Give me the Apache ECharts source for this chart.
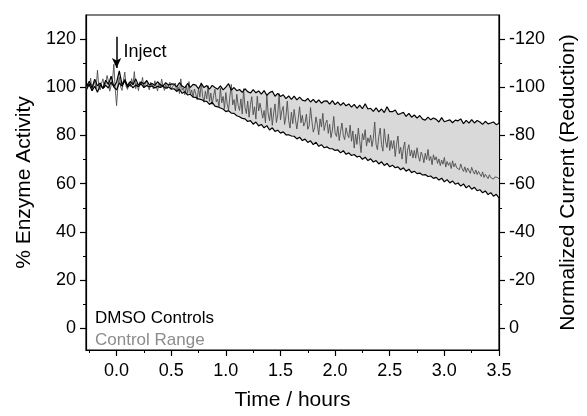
<!DOCTYPE html>
<html>
<head>
<meta charset="utf-8">
<title>Enzyme Activity</title>
<script src="https://cdn.jsdelivr.net/npm/echarts@6/dist/echarts.min.js"></script>
<style>
    html, body { margin: 0; padding: 0; background: #fff; }
    #main { width: 587px; height: 416px; }
</style>
</head>
<body>
    <div id="main"></div>
</body>
<script>
    // time axis: readings start at -0.275 h and end at 3.5 h
    var tStart = -0.275;
    var edgeStep = 0.025;   // black range traces
    var midStep = 0.0125;   // grey trace

    // top edge of the control range (black)
    var upperVals = [
        100.2, 102.5, 99.8, 103.4, 100.6, 101.8, 99.5, 102.9,
        101.2, 104.6, 100.3, 102.1, 106.8, 101.0, 103.2, 100.7,
        102.4, 101.1, 103.5, 100.9, 102.2, 101.4, 102.8, 101.0,
        101.6, 100.8, 102.3, 101.1, 100.6, 101.9, 100.9, 101.4,
        101.3, 100.2, 101.9, 100.5, 99.8, 101.6, 100.0, 101.2,
        100.9, 99.4, 101.6, 99.9, 100.7, 99.2, 100.8, 99.9,
        99.2, 100.6, 98.9, 100.1, 101.5, 98.8, 99.9, 98.6,
        99.1, 97.9, 99.4, 98.2, 97.6, 99.0, 97.7, 98.5,
        97.2, 98.6, 96.7, 97.8, 98.4, 96.3, 97.5, 96.2,
        96.9, 95.3, 96.4, 95.0, 96.3, 94.8, 95.9, 94.7,
        94.3, 95.4, 93.9, 95.0, 93.6, 94.8, 93.4, 94.3,
        94.4, 93.0, 94.5, 92.8, 93.9, 92.5, 93.6, 92.3,
        93.1, 91.8, 92.9, 91.3, 92.6, 91.1, 93.2, 91.0,
        91.3, 90.0, 91.5, 89.8, 91.0, 89.5, 91.9, 89.9,
        89.9, 90.6, 88.7, 89.1, 89.6, 87.9, 89.2, 87.6,
        88.5, 87.2, 88.3, 86.8, 86.4, 87.6, 86.5, 87.3,
        86.7, 85.6, 87.4, 85.7, 86.1, 86.5, 85.3, 86.4,
        86.1, 86.9, 84.9, 86.3, 85.1, 86.6, 85.2, 86.2,
        85.6, 84.6, 85.9, 84.8, 85.2, 85.6, 84.5, 85.1
    ];

    // bottom edge of the control range (black)
    var lowerVals = [
        99.1, 101.3, 98.6, 100.4, 97.9, 101.0, 99.6, 100.8,
        99.7, 102.2, 100.1, 98.9, 101.8, 100.5, 102.6, 100.0,
        101.2, 99.8, 100.9, 100.3, 101.4, 99.9, 100.7, 100.2,
        100.6, 99.7, 100.4, 99.9, 100.5, 99.6, 100.1, 99.3,
        99.4, 98.3, 99.2, 97.5, 98.2, 96.8, 97.1, 95.9,
        95.8, 95.2, 94.9, 94.3, 94.2, 92.9, 93.8, 92.2,
        91.9, 91.4, 91.0, 89.9, 90.3, 89.3, 89.2, 88.2,
        87.8, 87.1, 86.9, 85.8, 86.2, 84.7, 85.6, 84.0,
        84.6, 83.2, 84.1, 82.3, 83.2, 81.7, 82.2, 81.0,
        81.5, 80.3, 80.3, 79.8, 79.7, 78.6, 79.3, 77.9,
        78.5, 77.1, 77.8, 76.2, 77.2, 75.5, 76.2, 74.9,
        75.3, 74.5, 74.5, 73.8, 74.0, 72.8, 73.7, 72.2,
        72.8, 71.7, 72.1, 71.1, 71.4, 70.1, 71.0, 69.6,
        70.3, 69.0, 69.6, 68.2, 69.1, 67.6, 68.4, 67.0,
        67.7, 66.6, 67.0, 65.8, 66.6, 65.2, 66.0, 64.6,
        65.2, 64.2, 64.4, 63.6, 63.8, 63.0, 63.2, 62.2,
        62.6, 61.5, 62.3, 60.8, 61.7, 60.3, 61.1, 59.8,
        60.3, 59.0, 59.9, 58.3, 59.2, 57.7, 58.5, 57.1,
        57.5, 56.2, 57.0, 55.5, 56.3, 54.8, 55.6, 54.1
    ];

    // the noisy control run inside the range (grey)
    var middleVals = [
        99.2, 101.5, 100.3, 103.8, 98.6, 100.9, 102.4, 99.5, 107.1, 100.2, 98.9, 101.7, 103.5, 99.8, 101.3, 104.9,
        102.6, 98.4, 100.7, 103.1, 109.6, 99.2, 92.4, 101.0, 104.2, 100.1, 98.7, 102.8, 106.3, 100.4, 99.1, 101.9,
        100.3, 103.6, 101.2, 106.5, 99.4, 101.8, 98.6, 102.3, 100.9, 104.1, 99.7, 101.5, 103.0, 100.2, 98.9, 102.1,
        100.8, 99.3, 102.7, 100.4, 98.5, 101.6, 99.9, 103.4, 100.6, 98.7, 101.2, 99.4, 100.9, 102.1, 99.0, 100.3,
        99.6, 101.8, 98.1, 100.2, 97.4, 103.5, 98.8, 99.7, 96.9, 100.6, 97.5, 102.4, 96.8, 98.9, 95.9, 99.3,
        97.2, 94.8, 99.6, 95.9, 101.9, 96.3, 93.8, 98.4, 95.2, 100.7, 94.1, 97.6, 92.9, 96.5, 99.2, 94.0,
        95.1, 91.9, 99.7, 93.6, 96.2, 91.2, 97.8, 93.0, 90.6, 96.4, 101.2, 92.7, 94.9, 90.3, 97.1, 92.5,
        90.4, 95.2, 88.9, 99.4, 91.7, 89.1, 94.3, 87.6, 92.8, 96.1, 88.6, 91.9, 86.8, 96.3, 90.2, 93.4,
        93.7, 87.2, 90.4, 85.3, 96.8, 88.9, 86.1, 91.5, 84.2, 89.3, 93.1, 85.4, 88.7, 97.4, 86.5, 90.2,
        92.1, 84.6, 88.0, 94.3, 86.2, 83.1, 89.7, 84.9, 90.8, 86.4, 82.7, 87.1, 91.9, 85.3, 88.4, 83.9,
        85.3, 88.9, 82.6, 84.1, 91.6, 86.0, 81.4, 83.2, 87.7, 84.5, 80.3, 86.9, 83.5, 89.2, 82.1, 85.0,
        86.4, 80.9, 84.7, 79.1, 82.3, 87.9, 81.0, 79.6, 83.8, 77.9, 81.7, 85.2, 80.1, 78.3, 83.2, 80.6,
        79.1, 84.3, 77.6, 81.9, 74.8, 80.5, 76.3, 83.1, 77.9, 72.9, 80.8, 78.2, 82.4, 75.6, 79.0, 77.1,
        80.2, 75.4, 78.8, 85.6, 76.3, 74.1, 79.7, 83.1, 76.2, 73.5, 82.8, 77.4, 75.0, 80.6, 73.8, 77.9,
        74.6, 77.9, 71.3, 76.4, 79.8, 72.5, 75.1, 70.2, 74.8, 77.3, 68.4, 73.9, 76.2, 71.5, 74.0, 70.7,
        73.8, 70.6, 74.9, 71.4, 69.3, 73.1, 71.8, 68.7, 72.6, 70.0, 74.2, 69.6, 71.3, 67.9, 72.0, 69.8,
        71.2, 68.4, 70.3, 67.5, 69.8, 68.1, 70.9, 66.9, 69.2, 67.6, 68.8, 66.3, 69.5, 67.0, 68.4, 66.6,
        67.4, 65.8, 68.2, 66.3, 65.1, 67.0, 64.7, 66.5, 65.9, 64.3, 66.8, 65.2, 64.0, 65.7, 63.8, 65.1,
        64.3, 63.0, 64.9, 62.6, 63.9, 63.4, 62.1, 63.7, 62.5, 63.2, 61.9, 62.8, 62.0, 62.6, 61.9
    ];

    // tick labels
    var xTicks = [0, 0.5, 1.0, 1.5, 2.0, 2.5, 3.0, 3.5];
    var xMinor = [-0.25, 0.25, 0.75, 1.25, 1.75, 2.25, 2.75, 3.25];
    var yTicks = [0, 20, 40, 60, 80, 100, 120];
    var yMinor = [10, 30, 50, 70, 90, 110];
    var y2Ticks = [-120, -100, -80, -60, -40, -20, 0];
    var y2Minor = [-110, -90, -70, -50, -30, -10];

    // injection marker
    var injectTime = 0;
    var injectArrow = [121, 108];
    var injectLabelY = 114.5;

    var legendTexts = ['DMSO Controls', 'Control Range'];

    var FONT = "'Liberation Sans', Arial, sans-serif";

    var upper = [], lower = [], middle = [];
    for (var i = 0; i < upperVals.length; i++) {
        var t = +(tStart + i * edgeStep).toFixed(4);
        upper.push([t, upperVals[i]]);
        lower.push([t, lowerVals[i]]);
    }
    for (var j = 0; j < middleVals.length; j++) {
        middle.push([+(tStart + j * midStep).toFixed(4), middleVals[j]]);
    }

    var tickLabel = { fontFamily: FONT, fontSize: 18, color: '#000' };
    var lineBlack = { show: true, onZero: false, lineStyle: { color: '#000', width: 1.2 } };

    var myChart = echarts.init(document.getElementById('main'));
    var option = {
        animation: false,
        backgroundColor: '#fff',
        grid: {
            left: 86, right: 80, top: 15, bottom: 62,
            show: true, borderColor: '#000', borderWidth: 1.2
        },
        xAxis: [
            {
                type: 'value', min: -0.28, max: 3.5, position: 'bottom',
                name: 'Time / hours', nameLocation: 'middle', nameGap: 40,
                nameTextStyle: { fontFamily: FONT, fontSize: 21, color: '#000' },
                axisLine: lineBlack,
                axisTick: { show: true, inside: false, length: 6, customValues: xTicks, lineStyle: { color: '#000', width: 1.2 } },
                axisLabel: Object.assign({ margin: 12, customValues: xTicks, formatter: function (v) { return v.toFixed(1); } }, tickLabel),
                splitLine: { show: false }
            },
            {
                type: 'value', min: -0.28, max: 3.5, position: 'bottom',
                axisLine: { show: false, onZero: false },
                axisTick: { show: true, length: 3, customValues: xMinor, lineStyle: { color: '#000', width: 1 } },
                axisLabel: { show: false },
                splitLine: { show: false }
            }
        ],
        yAxis: [
            {
                type: 'value', min: -9, max: 130, position: 'left',
                name: '% Enzyme Activity', nameLocation: 'middle', nameGap: 40,
                nameTextStyle: { fontFamily: FONT, fontSize: 21, color: '#000' },
                axisLine: lineBlack,
                axisTick: { show: true, length: 6, customValues: yTicks, lineStyle: { color: '#000', width: 1.2 } },
                axisLabel: Object.assign({ margin: 10, customValues: yTicks }, tickLabel),
                splitLine: { show: false }
            },
            {
                type: 'value', min: -9, max: 130, position: 'left',
                axisLine: { show: false, onZero: false },
                axisTick: { show: true, length: 3, customValues: yMinor, lineStyle: { color: '#000', width: 1 } },
                axisLabel: { show: false },
                splitLine: { show: false }
            },
            {
                type: 'value', min: -130, max: 9, inverse: true, position: 'right',
                name: 'Normalized Current (Reduction)', nameLocation: 'middle', nameGap: 59,
                nameRotate: 90,
                nameTextStyle: { fontFamily: FONT, fontSize: 21, color: '#000' },
                axisLine: lineBlack,
                axisTick: { show: true, length: 6, customValues: y2Ticks, lineStyle: { color: '#000', width: 1.2 } },
                axisLabel: Object.assign({ margin: 10, customValues: y2Ticks }, tickLabel),
                splitLine: { show: false }
            },
            {
                type: 'value', min: -130, max: 9, inverse: true, position: 'right',
                axisLine: { show: false, onZero: false },
                axisTick: { show: true, length: 3, customValues: y2Minor, lineStyle: { color: '#000', width: 1 } },
                axisLabel: { show: false },
                splitLine: { show: false }
            }
        ],
        graphic: [
            {
                type: 'text', left: 95, top: 310,
                style: { text: legendTexts[0], fill: '#000', font: '17px ' + FONT }
            },
            {
                type: 'text', left: 95, top: 332,
                style: { text: legendTexts[1], fill: '#8c8c8c', font: '17px ' + FONT }
            }
        ],
        series: [
            {
                // grey band between the two black control traces
                name: 'Control Range', type: 'custom', silent: true,
                data: [upper[0]],
                renderItem: function (params, api) {
                    var pts = [];
                    upper.forEach(function (p) { pts.push(api.coord(p)); });
                    for (var k = lower.length - 1; k >= 0; k--) pts.push(api.coord(lower[k]));
                    return { type: 'polygon', shape: { points: pts }, style: { fill: '#d9d9d9' } };
                }
            },
            {
                name: 'middle', type: 'line', data: middle, symbol: 'none',
                lineStyle: { color: '#4d4d4d', width: 0.9 },
                markLine: {
                    silent: true,
                    symbol: ['none', 'arrow'],
                    symbolSize: [7, 10],
                    label: { show: false },
                    lineStyle: { color: '#000', width: 1.5, type: 'solid' },
                    data: [[{ coord: [injectTime, injectArrow[0]] }, { coord: [injectTime, injectArrow[1]] }]]
                },
                markPoint: {
                    silent: true,
                    symbol: 'circle', symbolSize: 0,
                    label: {
                        show: true, position: 'right', distance: 7,
                        formatter: 'Inject', fontFamily: FONT, fontSize: 18, color: '#000'
                    },
                    data: [{ coord: [injectTime, injectLabelY] }]
                }
            },
            {
                name: 'upper', type: 'line', data: upper, symbol: 'none',
                lineStyle: { color: '#000', width: 1.2 }
            },
            {
                name: 'lower', type: 'line', data: lower, symbol: 'none',
                lineStyle: { color: '#000', width: 1.2 }
            }
        ]
    };
    myChart.setOption(option);
</script>
</html>
